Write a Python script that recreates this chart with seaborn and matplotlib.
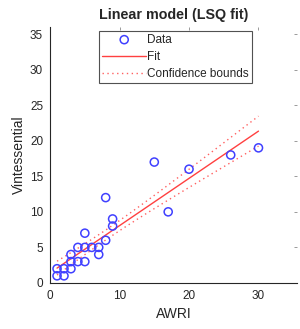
import numpy as np
import matplotlib
matplotlib.use("Agg")
import matplotlib.pyplot as plt
import seaborn as sns

# data
awri = [1, 1, 2, 2, 3, 3, 3, 4, 4, 5, 5, 5, 6, 7, 7, 8, 8, 9, 9, 15, 17, 20, 26, 30]
vint = [2, 1, 2, 1, 4, 3, 2, 5, 3, 7, 5, 3, 5, 5, 4, 6, 12, 9, 8, 17, 10, 16, 18, 19]

sns.set_style("white")
plt.rcParams["font.family"] = ["Liberation Sans", "DejaVu Sans"]

fig = plt.figure(figsize=(3.0, 3.29), dpi=100)
ax = fig.add_axes([0.167, 0.140, 0.822, 0.778])

# least squares fit + confidence bounds of the fitted curve
x = np.array(awri, dtype=float)
y = np.array(vint, dtype=float)
n = len(x)
b, a = np.polyfit(x, y, 1)
resid = y - (a + b * x)
s = np.sqrt(np.sum(resid ** 2) / (n - 2))
t = 1.6
xx = np.linspace(x.min(), x.max(), 100)
yy = a + b * xx
se = s * np.sqrt(1 / n + (xx - x.mean()) ** 2 / np.sum((x - x.mean()) ** 2))

sns.scatterplot(x=awri, y=vint, ax=ax, marker="o", s=34, facecolor="none",
                edgecolor="#4040ff", linewidth=1.1, label="Data", zorder=3)
sns.lineplot(x=xx, y=yy, ax=ax, color="#ff4040", linewidth=1.0, label="Fit")
sns.lineplot(x=xx, y=yy + t * se, ax=ax, color="#ff6060", linewidth=1.0,
             linestyle=(0, (1, 2.5)), label="Confidence bounds")
sns.lineplot(x=xx, y=yy - t * se, ax=ax, color="#ff6060", linewidth=1.0,
             linestyle=(0, (1, 2.5)), label="_nolegend_")

ax.set_xlim(0, 35.5)
ax.set_ylim(0, 36)
ax.set_xticks([0, 10, 20, 30])
ax.set_yticks([0, 5, 10, 15, 20, 25, 30, 35])
ax.tick_params(direction="in", length=2, width=0.6, labelsize=8.5, colors="#8a8a8a",
               top=True, right=True, labelcolor="#262626", pad=5)
for side in ["top", "right"]:
    ax.spines[side].set_visible(False)
for side in ["left", "bottom"]:
    ax.spines[side].set_color("#262626")
    ax.spines[side].set_linewidth(0.8)

ax.set_xlabel("AWRI", fontsize=10, color="#262626", labelpad=4)
ax.set_ylabel("Vintessential", fontsize=10, color="#262626", labelpad=3)
ax.set_title("Linear model (LSQ fit)", fontsize=10.3, fontweight="bold", pad=6)

leg = ax.legend(loc="upper left", bbox_to_anchor=(0.2, 0.985), fontsize=8.5,
                frameon=True, fancybox=False, borderpad=0.25, labelspacing=0.45,
                handlelength=3.7, handletextpad=0.1, borderaxespad=0)
leg.get_frame().set_edgecolor("#262626")
leg.get_frame().set_linewidth(0.8)

fig.savefig("out.png", dpi=100)
